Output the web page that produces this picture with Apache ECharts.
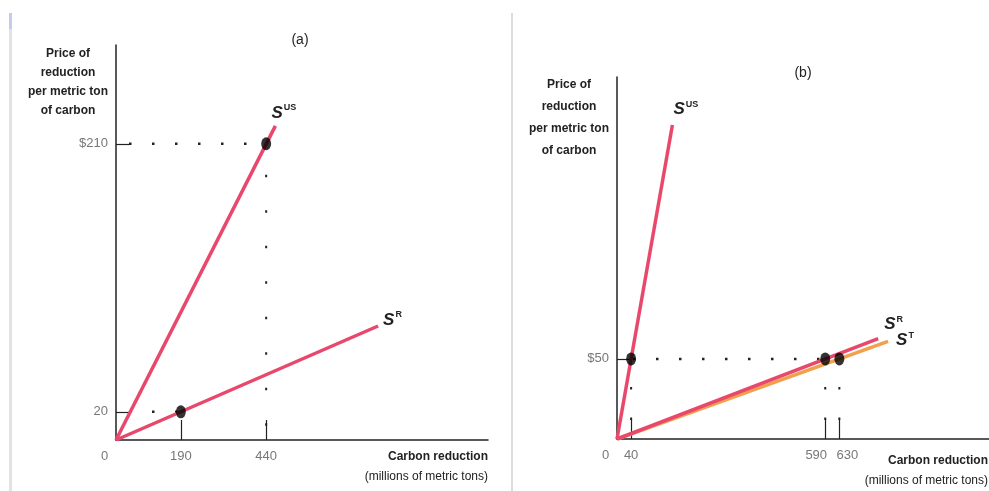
<!DOCTYPE html>
<html>
<head>
<meta charset="utf-8">
<script src="https://cdn.jsdelivr.net/npm/echarts@6/dist/echarts.min.js"></script>
<style>
html,body{margin:0;padding:0;background:#fff;}
#c{width:989px;height:491px;}
</style>
</head>
<body>
<div id="c"></div>
<script>
// ---- texts ----
const panelTitles = ['(a)', '(b)'];
const yAxisTitle = ['Price of', 'reduction', 'per metric ton', 'of carbon'];
const xAxisTitle = ['Carbon reduction', '(millions of metric tons)'];

// ---- panel (a) ----
const aXTicks = [190, 440];
const aXLabels = ['190', '440'];
const aYTicks = [20, 210];
const aYLabels = ['20', '$210'];
const aSUS = [[0, 0], [467, 222.7]];
const aSR = [[0, 0], [768, 80.8]];
const aPoints = [[190, 20], [440, 210]];

// ---- panel (b) ----
const bXTicks = [40, 590, 630];
const bXLabels = ['40', '590', '630'];
const bYTicks = [50];
const bYLabels = ['$50'];
const bSUS = [[0, 0], [157, 196]];
const bSR = [[0, 0], [740, 62.7]];
const bST = [[0, 0], [768, 61]];
const bPoints = [[40, 50], [590, 50], [630, 50]];

const FONT = "'Liberation Sans', Arial, sans-serif";
const RED = '#e8486c';
const ORANGE = '#f2a04c';
const AX = '#222';
const TICKC = '#777';

// label nudges (text placement only) so crowded labels stay readable
const labelPad = {590: [0, 18, 0, 0], 630: [0, 0, 0, 16]};

function xAxisCfg(gi, max, ticks, labels) {
  const rich = {z: {color: TICKC, fontFamily: FONT, fontSize: 13, padding: [0, 23, 0, 0]}};
  ticks.forEach(t => { rich['t' + t] = {color: TICKC, fontFamily: FONT, fontSize: 13, padding: labelPad[t] || [0, 0, 0, 0]}; });
  return {
    type: 'value', gridIndex: gi, min: 0, max: max,
    splitLine: {show: false},
    axisLine: {show: true, lineStyle: {color: AX, width: 1.5}},
    axisTick: {show: true, customValues: ticks, inside: true, length: 20, lineStyle: {color: AX, width: 1.2}},
    axisLabel: {
      show: true, customValues: [0].concat(ticks), margin: 10, hideOverlap: false,
      color: TICKC, fontFamily: FONT, fontSize: 13,
      formatter: v => v === 0 ? '{z|0}' : '{t' + v + '|' + labels[ticks.indexOf(v)] + '}',
      rich: rich
    }
  };
}
function yAxisCfg(gi, max, ticks, labels) {
  return {
    type: 'value', gridIndex: gi, min: 0, max: max,
    splitLine: {show: false},
    axisLine: {show: true, lineStyle: {color: AX, width: 1.5}},
    axisTick: {show: true, customValues: ticks, inside: true, length: 13, lineStyle: {color: AX, width: 1.2}},
    axisLabel: {
      show: true, customValues: ticks, margin: 8,
      color: TICKC, fontFamily: FONT, fontSize: 13,
      formatter: v => labels[ticks.indexOf(v)]
    }
  };
}
function supplyLine(gi, data, color, sup, offset, z) {
  return {
    type: 'line', xAxisIndex: gi, yAxisIndex: gi, data: data,
    showSymbol: false, symbol: 'none', silent: true, z: z || 3,
    lineStyle: {color: color, width: 3.5},
    endLabel: {
      show: true, offset: offset, distance: 5,
      formatter: '{s|S}{p|' + sup + '}',
      rich: {
        s: {fontFamily: FONT, fontWeight: 'bold', fontStyle: 'italic', fontSize: 17, color: '#222'},
        p: {fontFamily: FONT, fontWeight: 'bold', fontSize: 9, color: '#222', padding: [0, 0, 10, 1]}
      }
    }
  };
}
function guides(gi, points, hOff, vGap, vOff) {
  const out = [];
  const ys = Array.from(new Set(points.map(p => p[1])));
  ys.forEach(y => {
    const xr = Math.max.apply(null, points.filter(p => p[1] === y).map(p => p[0]));
    out.push({type: 'line', xAxisIndex: gi, yAxisIndex: gi, data: [[0, y], [xr, y]], showSymbol: false, symbol: 'none', silent: true, z: 1,
      lineStyle: {color: '#222', width: 2.5, type: [2.5, 20.5], dashOffset: hOff}});
  });
  points.forEach(p => {
    out.push({type: 'line', xAxisIndex: gi, yAxisIndex: gi, data: [[p[0], p[1]], [p[0], 0]], showSymbol: false, symbol: 'none', silent: true, z: 1,
      lineStyle: {color: '#222', width: 2, type: [2.5, vGap], dashOffset: vOff}});
  });
  return out;
}
function dots(gi, data) {
  return {type: 'scatter', xAxisIndex: gi, yAxisIndex: gi, data: data, symbol: 'circle', symbolSize: [10, 13],
    itemStyle: {color: '#000'}, z: 5, silent: true};
}

const titleFont = 'bold 12px ' + FONT;
const subFont = '12px ' + FONT;
const chart = echarts.init(document.getElementById('c'), null, {renderer: 'canvas'});
chart.setOption({
  animation: false,
  backgroundColor: '#fff',
  grid: [
    {left: 116, top: 45, width: 372, height: 395},
    {left: 617, top: 77, width: 372, height: 362}
  ],
  xAxis: [xAxisCfg(0, 1090, aXTicks, aXLabels), xAxisCfg(1, 1054, bXTicks, bXLabels)],
  yAxis: [yAxisCfg(0, 280, aYTicks, aYLabels), yAxisCfg(1, 226, bYTicks, bYLabels)],
  series: [].concat(
    guides(0, aPoints, -13, 33, -31),
    [supplyLine(0, aSUS, RED, 'US', [-9, -13]), supplyLine(0, aSR, RED, 'R', [0, -6]), dots(0, aPoints)],
    guides(1, bPoints, -16, 28, -28),
    [supplyLine(1, bSUS, RED, 'US', [-4, -16]), supplyLine(1, bST, ORANGE, 'T', [3, -1], 2),
     supplyLine(1, bSR, RED, 'R', [1, -14], 3), dots(1, bPoints)]
  ),
  graphic: [
    {type: 'rect', shape: {x: 9, y: 13, width: 3, height: 478}, style: {fill: '#e2e2e0'}, silent: true},
    {type: 'rect', shape: {x: 9, y: 13, width: 3, height: 16}, style: {fill: '#c4cbee'}, silent: true},
    {type: 'rect', shape: {x: 511, y: 13, width: 2, height: 478}, style: {fill: '#dcdcd8'}, silent: true},
    {type: 'text', x: 300, y: 40, style: {text: panelTitles[0], font: '14px ' + FONT, fill: '#222', align: 'center', verticalAlign: 'middle'}},
    {type: 'text', x: 803, y: 73, style: {text: panelTitles[1], font: '14px ' + FONT, fill: '#222', align: 'center', verticalAlign: 'middle'}},
    {type: 'text', x: 68, y: 44, style: {text: yAxisTitle.join('\n'), font: titleFont, fill: '#222', align: 'center', verticalAlign: 'top', lineHeight: 19}},
    {type: 'text', x: 569, y: 74, style: {text: yAxisTitle.join('\n'), font: titleFont, fill: '#222', align: 'center', verticalAlign: 'top', lineHeight: 22}},
    {type: 'text', x: 488, y: 457, style: {text: xAxisTitle[0], font: titleFont, fill: '#222', align: 'right', verticalAlign: 'middle'}},
    {type: 'text', x: 488, y: 477, style: {text: xAxisTitle[1], font: subFont, fill: '#222', align: 'right', verticalAlign: 'middle'}},
    {type: 'text', x: 988, y: 461, style: {text: xAxisTitle[0], font: titleFont, fill: '#222', align: 'right', verticalAlign: 'middle'}},
    {type: 'text', x: 988, y: 481, style: {text: xAxisTitle[1], font: subFont, fill: '#222', align: 'right', verticalAlign: 'middle'}}
  ]
});
</script>
</body>
</html>
